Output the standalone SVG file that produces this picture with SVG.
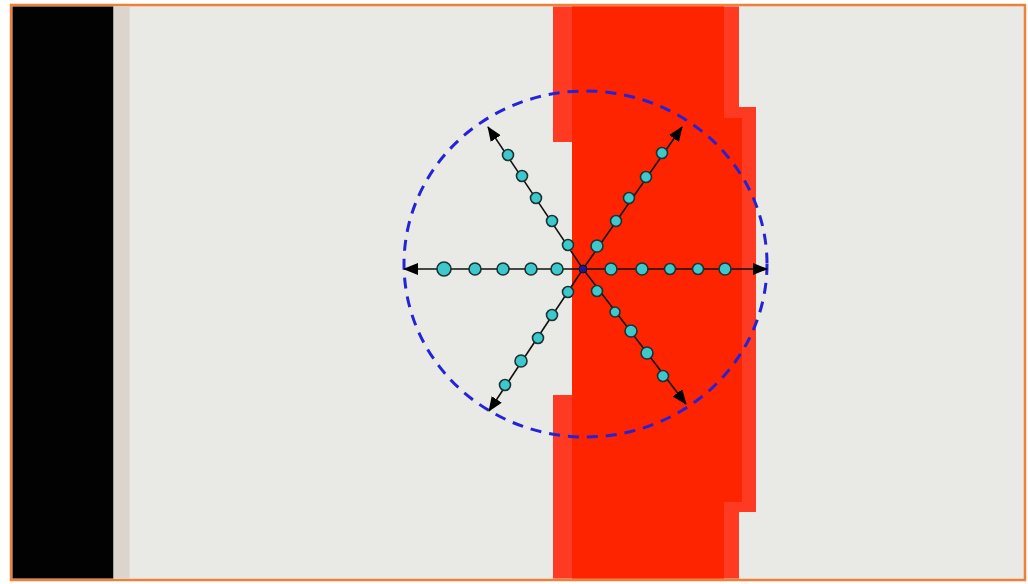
<svg xmlns="http://www.w3.org/2000/svg" width="1028" height="584" viewBox="0 0 1028 584">
<defs>
<style>
.ray{stroke:#111;stroke-width:1.6;fill:none;marker-end:url(#ah)}
.dot{fill:#3cc8cc;stroke:#1a3333;stroke-width:1.6}
</style>
<marker id="ah" viewBox="0 0 15 12" refX="14" refY="6" markerWidth="15" markerHeight="12" markerUnits="userSpaceOnUse" orient="auto">
<path d="M0,0 L15,6 L0,12 Z" fill="#000"/>
</marker>
</defs>
<rect width="1028" height="584" fill="#ffffff"/>
<g id="panel">
<rect x="11" y="5" width="1014" height="575" fill="#e9e9e6" stroke="#ef8038" stroke-width="2.5"/>
<rect x="12.5" y="6.5" width="101" height="572" fill="#020202"/>
<rect x="113.5" y="6.5" width="16" height="572" fill="#dcd5cd"/>
</g>
<g id="red-band">
<path d="M553,6.5 H739 V107 H756 V512 H739 V578.5 H553 V395 H572 V142 H553 Z" fill="#ff3a22"/>
<path d="M572,6.5 H724 V118 H742 V502 H724 V578.5 H572 Z" fill="#ff2400"/>
</g>
<g id="circle">
<ellipse cx="585.5" cy="264" rx="181.5" ry="173" fill="none" stroke="#2323d8" stroke-width="3" stroke-dasharray="11,8"/>
</g>
<g id="connectors">
<line class="ray" x1="583" y1="269" x2="404" y2="269"/>
<line class="ray" x1="583" y1="269" x2="767" y2="269"/>
<line class="ray" x1="583" y1="269" x2="488" y2="127"/>
<line class="ray" x1="583" y1="269" x2="682" y2="127"/>
<line class="ray" x1="583" y1="269" x2="489" y2="411"/>
<line class="ray" x1="583" y1="269" x2="686" y2="404"/>
</g>
<g id="dots">
<circle class="dot" cx="444" cy="269" r="7"/>
<circle class="dot" cx="475" cy="269" r="6"/>
<circle class="dot" cx="503" cy="269" r="6"/>
<circle class="dot" cx="531" cy="269" r="6"/>
<circle class="dot" cx="557" cy="269" r="6"/>
<circle class="dot" cx="611" cy="269" r="6"/>
<circle class="dot" cx="642" cy="269" r="6"/>
<circle class="dot" cx="670" cy="269" r="5.5"/>
<circle class="dot" cx="698" cy="269" r="5.5"/>
<circle class="dot" cx="725" cy="269" r="6"/>
<circle class="dot" cx="508" cy="155" r="5.5"/>
<circle class="dot" cx="522" cy="176" r="5.5"/>
<circle class="dot" cx="536" cy="198" r="5.5"/>
<circle class="dot" cx="552" cy="221" r="5.5"/>
<circle class="dot" cx="568" cy="245" r="5.5"/>
<circle class="dot" cx="662" cy="153" r="5.5"/>
<circle class="dot" cx="646" cy="177" r="5.5"/>
<circle class="dot" cx="629" cy="198" r="5.5"/>
<circle class="dot" cx="616" cy="221" r="5.5"/>
<circle class="dot" cx="597" cy="246" r="6"/>
<circle class="dot" cx="568" cy="292" r="5.5"/>
<circle class="dot" cx="552" cy="315" r="5.5"/>
<circle class="dot" cx="538" cy="338" r="5.5"/>
<circle class="dot" cx="521" cy="361" r="6"/>
<circle class="dot" cx="505" cy="385" r="5.5"/>
<circle class="dot" cx="597" cy="291" r="5.5"/>
<circle class="dot" cx="615" cy="312" r="5"/>
<circle class="dot" cx="631" cy="331" r="6"/>
<circle class="dot" cx="647" cy="353" r="6"/>
<circle class="dot" cx="663" cy="376" r="5.5"/>
<circle cx="583" cy="269" r="4" fill="#1a1a8c" stroke="#0a0a40" stroke-width="1"/>
</g>
</svg>
